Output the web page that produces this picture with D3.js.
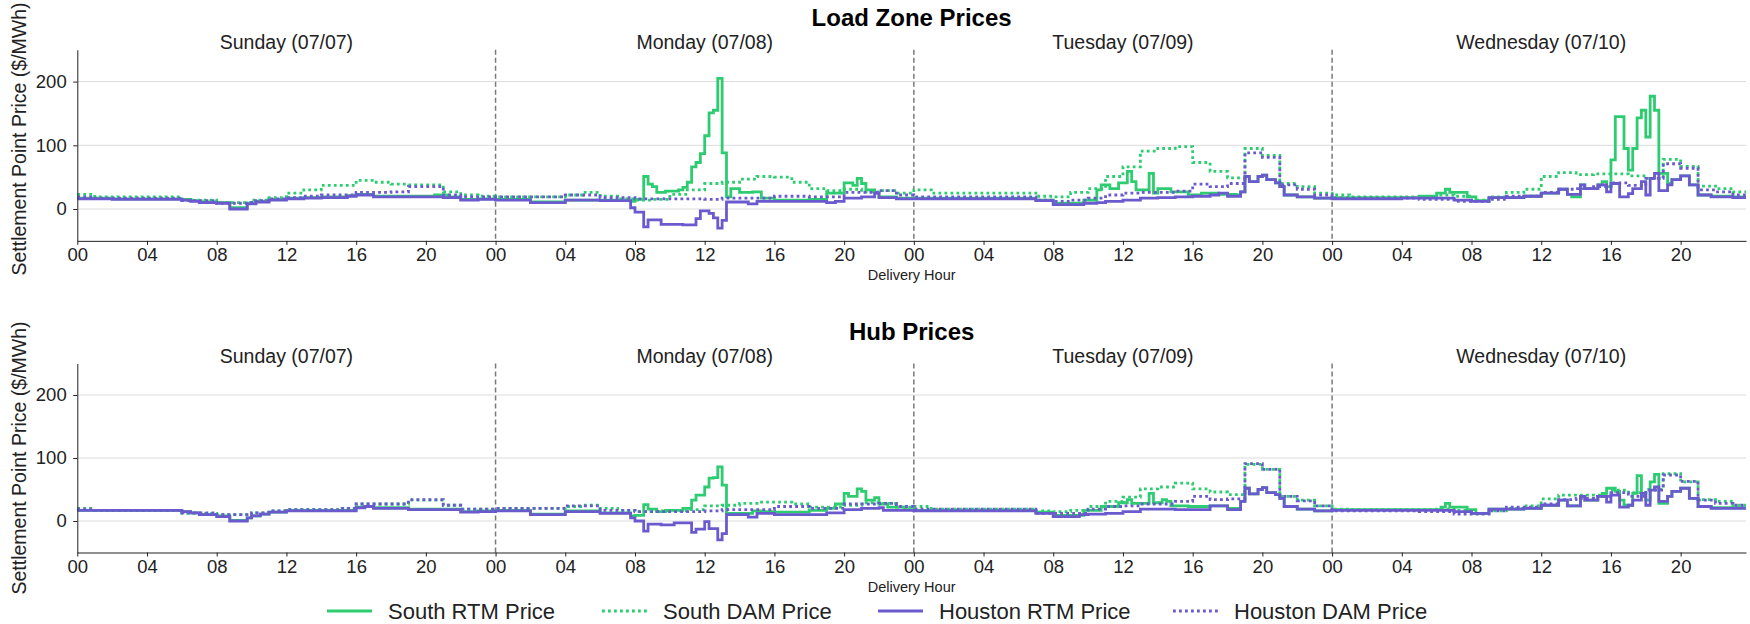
<!DOCTYPE html>
<meta charset="utf-8">
<style>
body { margin: 0; background: #fff; }
svg text { font-family: "Liberation Sans", Arial, sans-serif; fill: #222; }
.tick text { font-size: 18.5px; }
.tick line, .domain { stroke: #222; }
</style>
<body>
<script src="https://d3js.org/d3.v7.min.js"></script>
<script>
// ---- data (hours counted from Sunday 00:00) ----
var dayLabels = ["Sunday (07/07)", "Monday (07/08)", "Tuesday (07/09)", "Wednesday (07/10)"];
var panelTitles = ["Load Zone Prices", "Hub Prices"];
var yTicks = [0, 100, 200];
var xTickHours = d3.range(0, 96, 4);
var dayBreaks = [24, 48, 72];
var seriesNames = ["South RTM Price", "South DAM Price", "Houston RTM Price", "Houston DAM Price"];

// real-time prices: [hour, $/MWh] at each 15-min step change
var lzSouthRtm = [
  [0,17],[2,16],[6,15],[6.5,13],[7,11],[8,10],[8.75,2],[9.75,9],[10.25,12],[11,15],[12,17],[13,18],[14,19],[15.5,21],[16,23],[17,20],[20,20],[20.5,22],[21.25,19],[22,15],[23,16],
  [24,15],[26,11],[28,14],[31,13],[31.75,12],[32,15],[32.5,51],[32.75,39],[33,35],[33.25,26],[33.75,28],[34.5,30],[34.75,34],[35,42],[35.25,66],[35.5,73],[35.75,87],[36,115],[36.25,151],[36.5,155],[36.75,205],[37,88],[37.25,19],[37.5,32],[38,26],[38.75,27],[39.25,17],[40,14],[42,15],[43,25],[44,41],[44.5,37],[44.75,48],[45,40],[45.25,30],[45.75,25],[46,19],[47,17],
  [48,17],[55,14],[56,9],[57.75,14],[58.5,30],[58.75,38],[59.25,32],[59.75,41],[60.25,59],[60.5,43],[60.75,30],[61.5,56],[61.75,25],[62,32],[62.75,27],[63.75,22],[64.5,25],[65.5,23],[66.5,22],[66.75,27],[67,51],[67.25,43],[67.75,51],[68,53],[68.25,46],[68.75,41],[69,35],[69.25,22],[70,19],[71,17],
  [72,18],[77,20],[78,25],[78.5,31],[78.75,26],[79.75,19],[80.25,13],[81,18],[83,20],[84,25],[85,31],[85.5,23],[85.75,19],[86.25,38],[86.5,32],[87.25,38],[87.5,43],[87.75,35],[88,77],[88.25,145],[88.75,95],[89,61],[89.25,95],[89.5,143],[89.75,155],[90,113],[90.25,177],[90.5,155],[90.75,56],[91.25,40],[91.5,46],[92,52],[92.5,38],[93,22],[93.75,20],[95,19]
];
var lzHoustonRtm = [
  [0,16],[2,15],[6,14],[6.5,12],[7,10],[8,9],[8.75,0],[9.75,8],[10.25,11],[11,14],[12,16],[13,17],[14,18],[15.5,20],[16,22],[17,19],[21,18],[22,14],[23,15],
  [24,14],[26,10],[28,14],[30,13],[31.75,2],[32,-5],[32.5,-28],[32.75,-17],[33.5,-24],[34.75,-25],[35.5,-15],[35.75,-3],[36.25,-7],[36.5,-14],[36.75,-30],[37,-18],[37.25,11],[38.5,8],[39,12],[43,10],[43.5,12],[44,17],[45,19],[45.75,25],[46,18],[47,16],
  [48,16],[55,13],[56,7],[57.75,9],[58.5,10],[59,12],[60,14],[61,17],[62,18],[63,19],[64,20],[65,22],[65.5,25],[66,20],[66.75,27],[67,51],[67.25,43],[67.75,51],[68,53],[68.25,46],[68.75,41],[69,35],[69.25,22],[70,19],[71,17],
  [72,16],[76,17],[79,14],[80,12],[81,18],[83,20],[84,25],[85,31],[85.5,23],[86.25,38],[86.5,32],[87.25,38],[87.75,27],[88,40],[88.5,19],[89,24],[89.25,32],[89.75,43],[90,22],[90.25,48],[90.5,56],[90.75,29],[91.25,38],[91.5,46],[92,52],[92.5,38],[93,22],[93.75,19],[95,18]
];
var hubSouthRtm = [
  [0,17],[6,15],[6.5,13],[7,10],[8,8],[8.75,1],[9.75,5],[10,8],[10.5,11],[11,14],[12,17],[16,22],[16.5,23],[17,21],[19,19],[22,15],[23,16],
  [24,17],[26,11],[28,16],[30,13],[31.75,8],[32,9],[32.5,26],[32.75,19],[33.25,15],[33.75,17],[34.75,20],[35.25,33],[35.5,41],[36,54],[36.25,68],[36.5,69],[36.75,86],[37,57],[37.25,12],[38.75,16],[39.25,15],[40,14],[42,17],[43,20],[43.5,27],[44,44],[44.25,39],[44.75,51],[45,47],[45.25,33],[45.75,37],[46,27],[46.5,22],[47.5,18],
  [48,17],[55,14],[56,9],[57.75,17],[58.75,23],[59.75,29],[60.25,34],[60.5,28],[61.5,44],[61.75,29],[62.25,34],[62.5,31],[62.75,24],[63.75,23],[65,24],[66,20],[66.75,31],[67,52],[67.25,43],[67.75,50],[68,53],[68.25,45],[68.75,42],[69,36],[69.25,23],[70,19],[71,16],
  [72,18],[78.25,22],[78.5,28],[78.75,22],[79.75,18],[80.25,12],[81,19],[83,20],[84,25],[85,33],[85.5,24],[86.25,39],[86.5,33],[87.25,39],[87.5,44],[87.75,52],[88.25,47],[88.5,33],[88.75,25],[89.25,44],[89.5,72],[89.75,44],[90,33],[90.25,62],[90.5,74],[90.75,28],[91.25,39],[91.5,47],[92,52],[92.5,36],[93,23],[93.75,21]
];
var hubHoustonRtm = [
  [0,17],[6,15],[6.5,13],[7,10],[8,7],[8.75,0],[9.75,5],[10,8],[10.5,11],[11,14],[12,16],[16,21],[16.5,23],[17,20],[19,18],[22,14],[23,15],
  [24,16],[26,10],[28,15],[30,12],[31.75,5],[32,0],[32.5,-16],[32.75,-5],[33.5,-6],[34.25,-3],[35.25,-18],[35.5,-13],[36,-1],[36.25,-12],[36.75,-30],[37,-20],[37.25,10],[38.5,6],[39,12],[40,10],[43,13],[44,18],[45,20],[46,21],[46.25,17],
  [48,16],[55,12],[56,7],[57.5,10],[58,11],[59,12],[60,15],[61,19],[63,18],[65,24],[66,18],[66.75,31],[67,52],[67.25,43],[67.75,50],[68,53],[68.25,45],[68.75,42],[69,36],[69.25,23],[70,19],[71,16],
  [72,17],[79,15],[80,12],[81,19],[83,20],[84,25],[85,33],[85.5,24],[86.25,39],[86.5,33],[87.25,39],[87.75,30],[88,41],[88.5,22],[89,25],[89.25,33],[89.75,44],[90,25],[90.25,49],[90.5,54],[90.75,31],[91.25,39],[91.5,47],[92,52],[92.5,36],[93,23],[93.75,20]
];

// day-ahead prices: one value per hour, 96 hours
var lzSouthDam = [
  23,19,19,19,19,19,14,14,10,10,14,18,25,30,37,37,45,42,39,38,38,27,22,20,
  19,19,19,19,22,26,20,16,14,15,23,30,40,42,47,51,50,42,32,29,31,27,29,25,
  30,25,25,25,25,25,25,20,19,26,32,51,66,91,95,98,73,59,49,95,84,40,35,25,
  22,19,19,19,19,19,22,20,14,19,26,31,51,57,54,55,55,52,48,78,67,36,32,27
];
var lzHoustonDam = [
  19,17,17,17,17,17,13,13,9,9,13,16,18,20,22,22,26,26,27,35,35,22,19,19,
  19,19,19,19,22,22,18,18,16,16,16,16,15,17,17,17,20,20,19,19,26,26,29,22,
  19,19,19,19,19,19,19,14,12,14,17,22,25,26,26,28,39,35,40,88,81,38,31,22,
  17,17,17,17,17,15,15,12,12,15,20,20,26,31,32,35,41,37,48,71,64,30,27,22
];
var hubSouthDam = [
  20,17,17,17,17,17,12,12,10,10,13,16,18,18,18,20,27,27,27,33,33,25,19,19,
  20,20,20,20,23,25,20,17,15,16,16,18,24,25,28,30,30,27,22,22,25,29,28,22,
  23,19,19,19,19,19,19,16,15,17,23,31,38,51,54,60,51,46,42,90,82,39,33,24,
  19,18,18,18,18,18,19,17,12,16,20,24,35,41,41,41,49,45,50,75,62,34,31,25
];
var hubHoustonDam = [
  19,17,17,17,17,17,13,13,10,10,13,16,18,18,18,20,27,27,27,34,34,25,19,19,
  20,20,20,20,24,24,17,17,15,15,15,15,16,18,18,18,23,23,20,20,27,27,28,23,
  19,19,19,19,19,19,19,12,12,12,19,23,24,27,27,31,39,34,35,91,82,39,32,24,
  16,16,16,16,16,15,15,11,11,16,22,22,27,34,36,39,45,39,49,73,63,33,28,25
];

// ---- layout ----
var width = 1750, height = 624;
var green = "#2ecc71", purple = "#6a5acd";
var dotted = "2.8,3.2";
var styles = [
  {color: green, dash: null},
  {color: green, dash: dotted},
  {color: purple, dash: null},
  {color: purple, dash: dotted}
];
var panels = [
  {title: panelTitles[0], top: 49.75, bottom: 240.85, labelY: 139, rtm: [lzSouthRtm, lzHoustonRtm], dam: [lzSouthDam, lzHoustonDam]},
  {title: panelTitles[1], top: 363.5, bottom: 552.5, labelY: 458, rtm: [hubSouthRtm, hubHoustonRtm], dam: [hubSouthDam, hubHoustonDam]}
];

var x = d3.scaleLinear().domain([0, 95.75]).range([77.3, 1746]);
var xMid = (x.range()[0] + x.range()[1]) / 2;

var svg = d3.select("body").append("svg")
    .attr("width", width)
    .attr("height", height);

svg.append("defs").append("clipPath").attr("id", "plotclip")
  .append("rect").attr("x", x.range()[0]).attr("y", 0)
    .attr("width", x.range()[1] - x.range()[0]).attr("height", height);

var line = d3.line().curve(d3.curveStepAfter);

panels.forEach(function(p) {
  var y = d3.scaleLinear().domain([-50, 250]).range([p.bottom, p.top]);
  line.x(function(d) { return x(d[0]); }).y(function(d) { return y(d[1]); });

  var g = svg.append("g");

  // grid
  g.selectAll(".grid").data(yTicks).enter().append("line")
      .attr("x1", x.range()[0]).attr("x2", x.range()[1])
      .attr("y1", function(d) { return y(d); }).attr("y2", function(d) { return y(d); })
      .style("stroke", "#dcdcdc").style("stroke-width", 1);

  // day separators
  g.selectAll(".sep").data(dayBreaks).enter().append("line")
      .attr("x1", function(d) { return x(d); }).attr("x2", function(d) { return x(d); })
      .attr("y1", p.top).attr("y2", p.bottom)
      .style("stroke", "#7a7a7a").style("stroke-width", 1.5)
      .style("stroke-dasharray", "5,3");

  // series, legend order
  var seriesData = [
    p.rtm[0].concat([[96, p.rtm[0][p.rtm[0].length - 1][1]]]),
    p.dam[0].map(function(v, i) { return [i, v]; }).concat([[96, p.dam[0][95]]]),
    p.rtm[1].concat([[96, p.rtm[1][p.rtm[1].length - 1][1]]]),
    p.dam[1].map(function(v, i) { return [i, v]; }).concat([[96, p.dam[1][95]]])
  ];
  seriesData.forEach(function(s, si) {
    g.append("path")
        .attr("clip-path", "url(#plotclip)")
        .attr("d", line(s))
        .style("fill", "none")
        .style("stroke", styles[si].color)
        .style("stroke-width", 2.8)
        .style("stroke-dasharray", styles[si].dash);
  });

  // axes
  g.append("g")
      .attr("transform", "translate(0," + p.bottom + ")")
      .call(d3.axisBottom(x).tickValues(xTickHours)
        .tickFormat(function(h) { return d3.format("02d")(h % 24); })
        .tickSize(4).tickPadding(3.5).tickSizeOuter(0));
  g.append("g")
      .attr("transform", "translate(" + x.range()[0] + ",0)")
      .call(d3.axisLeft(y).tickValues(yTicks).tickSize(4).tickPadding(6.6).tickSizeOuter(0));

  // texts
  g.append("text")
      .attr("x", xMid).attr("y", p.top - 23.5)
      .attr("text-anchor", "middle")
      .style("font-size", "24px").style("font-weight", "bold").style("fill", "#000")
      .text(p.title);
  g.selectAll(".day").data(dayLabels).enter().append("text")
      .attr("x", function(d, i) { return x(i * 24 + 12); })
      .attr("y", p.top - 0.5)
      .attr("text-anchor", "middle")
      .style("font-size", "19.5px")
      .text(function(d) { return d; });
  g.append("text")
      .attr("x", xMid).attr("y", p.bottom + 39)
      .attr("text-anchor", "middle")
      .style("font-size", "14.5px")
      .text("Delivery Hour");
  g.append("text")
      .attr("transform", "translate(26," + p.labelY + ") rotate(-90)")
      .attr("text-anchor", "middle")
      .style("font-size", "19.5px")
      .text("Settlement Point Price ($/MWh)");
});

// legend
var legendX = [327, 602, 878, 1173];
var legend = svg.append("g").attr("transform", "translate(0,611)");
seriesNames.forEach(function(name, i) {
  legend.append("line")
      .attr("x1", legendX[i]).attr("x2", legendX[i] + 45)
      .attr("y1", 0).attr("y2", 0)
      .style("stroke", styles[i].color).style("stroke-width", 2.8)
      .style("stroke-dasharray", styles[i].dash);
  legend.append("text")
      .attr("x", legendX[i] + 61).attr("y", 8)
      .style("font-size", "22px")
      .text(name);
});
</script>
</body>
